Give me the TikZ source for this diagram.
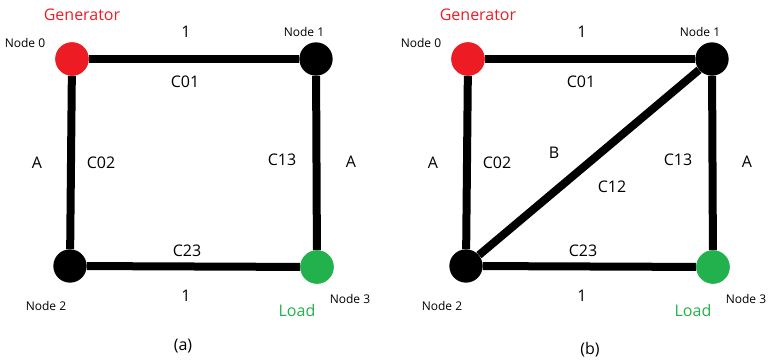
\documentclass[tikz,border=0pt]{standalone}
\usepackage{fontspec}
\setmainfont{Open Sans}
\usetikzlibrary{positioning}
\definecolor{genred}{RGB}{237,28,36}
\definecolor{loadgreen}{RGB}{34,177,76}
\tikzset{
  bus/.style     = {circle, fill=black, minimum size=25pt, inner sep=0pt},
  genbus/.style  = {bus, fill=genred},
  loadbus/.style = {bus, fill=loadgreen},
  wire/.style    = {line width=6pt},
  buslab/.style  = {font=\small, inner sep=0pt},
  lab/.style     = {font=\large, inner sep=0pt},
}
\begin{document}
\begin{tikzpicture}[x=0.75pt, y=-0.75pt]
\useasboundingbox (0,0) rectangle (769,363);
% panel (a)
\node[genbus]  (a0) at (72, 59)  {};
\node[bus]     (a1) at (316, 59) {};
\node[bus]     (a2) at (70, 266) {};
\node[loadbus] (a3) at (317, 267) {};
\draw[wire] (a0) -- (a1);
\draw[wire] (a0) -- (a2);
\draw[wire] (a1) -- (a3);
\draw[wire] (a2) -- (a3);
\node[genbus]  at (a0) {};
\node[loadbus] at (a3) {};
\node[lab, text=genred]    (agen)  at (82, 15)  {Generator};
\node[buslab]              (an0)   at (25, 43)  {Node 0};
\node[buslab]              (an1)   at (304, 32) {Node 1};
\node[buslab]              (an2)   at (46, 306) {Node 2};
\node[buslab]              (an3)   at (350, 299) {Node 3};
\node[lab, text=loadgreen] (aload) at (297, 311) {Load};
\node[lab] (aw01) at (186, 32)  {1};
\node[lab] (ac01) at (185, 82)  {C01};
\node[lab] (aal)  at (37, 163)  {A};
\node[lab] (ac02) at (101, 163) {C02};
\node[lab] (ac13) at (282, 160) {C13};
\node[lab] (aar)  at (351, 162) {A};
\node[lab] (ac23) at (187, 251) {C23};
\node[lab] (aw23) at (186, 296) {1};
\node[lab] (acap) at (183, 346) {(a)};
% panel (b)
\node[genbus]  (b0) at (468, 59)  {};
\node[bus]     (b1) at (712, 59)  {};
\node[bus]     (b2) at (466, 266) {};
\node[loadbus] (b3) at (713, 267) {};
\draw[wire] (b0) -- (b1);
\draw[wire] (b0) -- (b2);
\draw[wire] (b1) -- (b3);
\draw[wire] (b2) -- (b3);
\draw[wire] (b2) -- (b1);
\node[genbus]  at (b0) {};
\node[loadbus] at (b3) {};
\node[lab, text=genred]    (bgen)  at (478, 15)  {Generator};
\node[buslab]              (bn0)   at (421, 43)  {Node 0};
\node[buslab]              (bn1)   at (700, 32)  {Node 1};
\node[buslab]              (bn2)   at (442, 306) {Node 2};
\node[buslab]              (bn3)   at (746, 299) {Node 3};
\node[lab, text=loadgreen] (bload) at (693, 311) {Load};
\node[lab] (bw01) at (582, 32)  {1};
\node[lab] (bc01) at (581, 82)  {C01};
\node[lab] (bal)  at (433, 163) {A};
\node[lab] (bc02) at (497, 163) {C02};
\node[lab] (bb)   at (554, 153) {B};
\node[lab] (bc12) at (612, 187) {C12};
\node[lab] (bc13) at (678, 160) {C13};
\node[lab] (bar)  at (747, 162) {A};
\node[lab] (bc23) at (583, 251) {C23};
\node[lab] (bw23) at (582, 296) {1};
\node[lab] (bcap) at (590, 350) {(b)};
\end{tikzpicture}
\end{document}
